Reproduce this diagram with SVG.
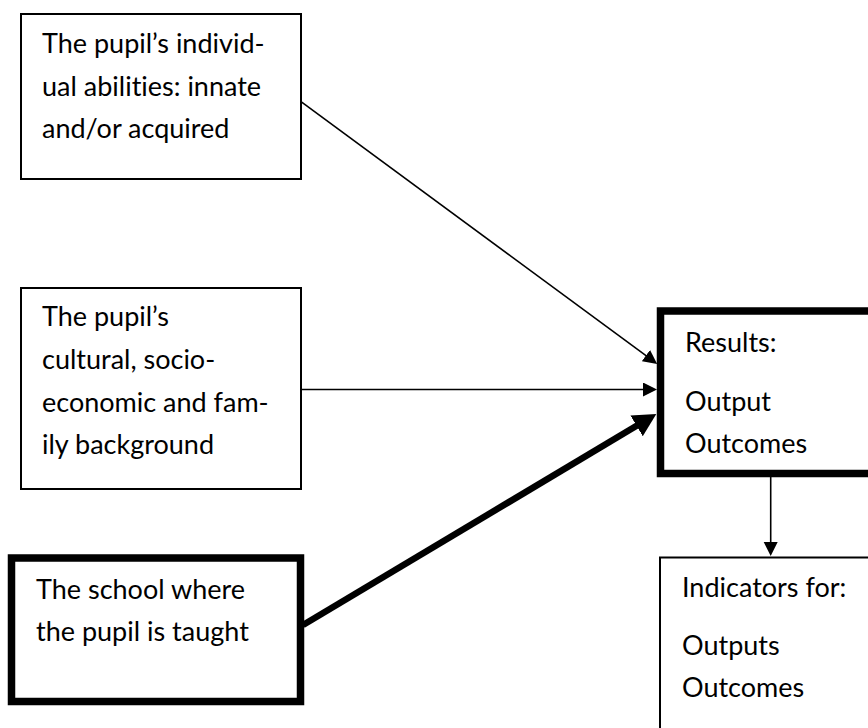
<svg xmlns="http://www.w3.org/2000/svg" width="868" height="728" viewBox="0 0 868 728">
<style>
  text { font-family: Lato, "Liberation Sans", sans-serif; font-size: 27px; fill: #000; font-variant-ligatures: none; font-feature-settings: "liga" 0, "dlig" 0; }
  .thin { fill: #fff; stroke: #000; stroke-width: 2; }
  .thick { fill: #fff; stroke: #000; stroke-width: 7.5; }
  .conn { stroke: #000; stroke-width: 1.6; fill: none; }
  .conn-thick { stroke: #000; stroke-width: 6.5; fill: none; }
</style>
<defs>
  <marker id="ah" markerUnits="userSpaceOnUse" markerWidth="15" markerHeight="15" refX="1" refY="7" orient="auto">
    <path d="M0,0 L14,7 L0,14 z" fill="#000"/>
  </marker>
  <marker id="ahThick" markerUnits="userSpaceOnUse" markerWidth="25" markerHeight="25" refX="2" refY="12" orient="auto">
    <path d="M0,0 L23,12 L0,24 z" fill="#000"/>
  </marker>
</defs>
<rect width="868" height="728" fill="#fff"/>

<g id="connectors">
  <line class="conn" x1="301" y1="101.7" x2="646.7" y2="356.2" marker-end="url(#ah)"/>
  <line class="conn" x1="301" y1="389.5" x2="644" y2="389.5" marker-end="url(#ah)"/>
  <line class="conn-thick" x1="303" y1="625" x2="638.3" y2="424.8" marker-end="url(#ahThick)"/>
  <line class="conn" x1="770.7" y1="477" x2="770.7" y2="543" marker-end="url(#ah)"/>
</g>

<g id="abilities">
  <rect class="thin" x="21" y="14" width="280" height="165"/>
  <text x="42" y="53">The pupil’s individ-</text>
  <text x="42" y="95.5">ual abilities: innate</text>
  <text x="42" y="138">and/or acquired</text>
</g>

<g id="background">
  <rect class="thin" x="21" y="288" width="280" height="201"/>
  <text x="42" y="326">The pupil’s</text>
  <text x="42" y="369">cultural, socio-</text>
  <text x="42" y="411.5">economic and fam-</text>
  <text x="42" y="454">ily background</text>
</g>

<g id="school">
  <rect class="thick" x="11.5" y="558" width="289" height="143.5"/>
  <text x="36" y="599">The school where</text>
  <text x="36" y="641">the pupil is taught</text>
</g>

<g id="results">
  <rect class="thick" x="660.5" y="311" width="230" height="162.5"/>
  <text x="685" y="352">Results:</text>
  <text x="685" y="411">Output</text>
  <text x="685" y="453">Outcomes</text>
</g>

<g id="indicators">
  <rect class="thin" x="660" y="557.5" width="230" height="200"/>
  <text x="682" y="597">Indicators for:</text>
  <text x="682" y="655">Outputs</text>
  <text x="682" y="697">Outcomes</text>
</g>
</svg>
